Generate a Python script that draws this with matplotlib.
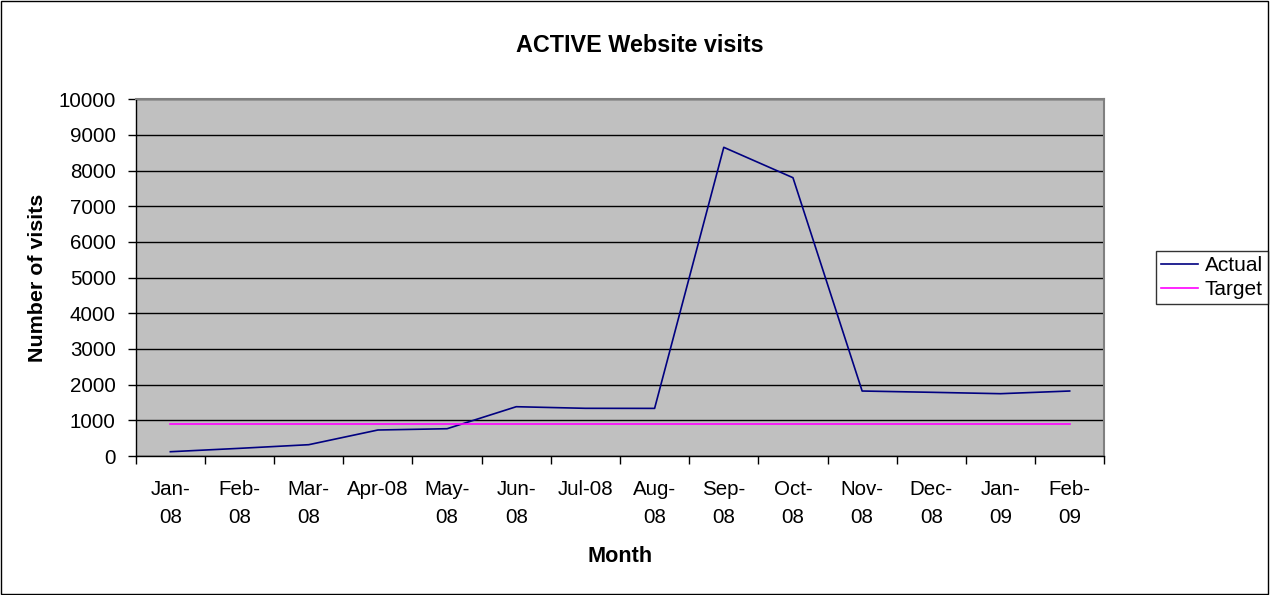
import matplotlib
matplotlib.use('Agg')
import matplotlib.pyplot as plt
import numpy as np
from matplotlib.patches import Rectangle

# data
months = ['Jan-\n08', 'Feb-\n08', 'Mar-\n08', 'Apr-08', 'May-\n08', 'Jun-\n08', 'Jul-08',
          'Aug-\n08', 'Sep-\n08', 'Oct-\n08', 'Nov-\n08', 'Dec-\n08', 'Jan-\n09', 'Feb-\n09']
actual = [120, 215, 317, 729, 765, 1382, 1337, 1335, 8654, 7802, 1822, 1786, 1747, 1822]
target = [885] * 14
yticks = list(range(0, 10001, 1000))

plt.rcParams['font.family'] = ['Liberation Sans', 'DejaVu Sans']

fig = plt.figure(figsize=(12.7, 5.95), dpi=100)
ax = fig.add_axes([0.1069, 0.2336, 0.7626, 0.5995])
ax.set_facecolor('#C0C0C0')

x = np.arange(len(months))
ax.plot(x, actual, color='#000080', lw=1.2, label='Actual')
ax.plot(x, target, color='#FF00FF', lw=1.2, label='Target')

ax.set_xlim(-0.5, len(months) - 0.5)
ax.set_ylim(0, 10000)
ax.set_yticks(yticks)
ax.set_yticklabels([str(v) for v in yticks], fontsize=14.8)
ax.yaxis.grid(True, color='black', lw=1)
ax.set_axisbelow(True)

# ticks on category boundaries, labels in the middle
ax.set_xticks(np.arange(len(months) + 1) - 0.5)
ax.set_xticklabels([])
ax.set_xticks(x, minor=True)
ax.set_xticklabels(months, minor=True, fontsize=14.8, linespacing=1.6, va='top')
ax.tick_params(axis='x', which='minor', length=0, pad=17)
ax.tick_params(axis='x', which='major', length=6, width=1, direction='out')
ax.tick_params(axis='y', length=6, width=1, direction='out', pad=8.4)

for s in ['left', 'bottom']:
    ax.spines[s].set_color('black')
    ax.spines[s].set_linewidth(1)
for s in ['top', 'right']:
    ax.spines[s].set_color('#808080')
    ax.spines[s].set_linewidth(1.5)

fig.text(0.504, 1 - 45 / 595, 'ACTIVE Website visits', ha='center', va='center',
         fontsize=16.8, fontweight='bold')
fig.text(38 / 1270, 1 - 278 / 595, 'Number of visits', ha='center', va='center',
         rotation=90, fontsize=15.4, fontweight='bold')
fig.text(620 / 1270, 1 - 556 / 595, 'Month', ha='center', va='center',
         fontsize=15.6, fontweight='bold')

leg = fig.legend(loc='center left', bbox_to_anchor=(1156 / 1270, 1 - 277.5 / 595),
                 fontsize=15, frameon=True, fancybox=False, edgecolor='black',
                 handlelength=1.75, handletextpad=0.35, borderpad=0.25, labelspacing=0.25,
                 borderaxespad=0)
leg.get_frame().set_linewidth(1)

# outer chart border
fig.patches.append(Rectangle((0.0005, 0.001), 0.998, 0.998, transform=fig.transFigure,
                             fill=False, edgecolor='black', lw=1))

fig.savefig('out.png', dpi=100)
